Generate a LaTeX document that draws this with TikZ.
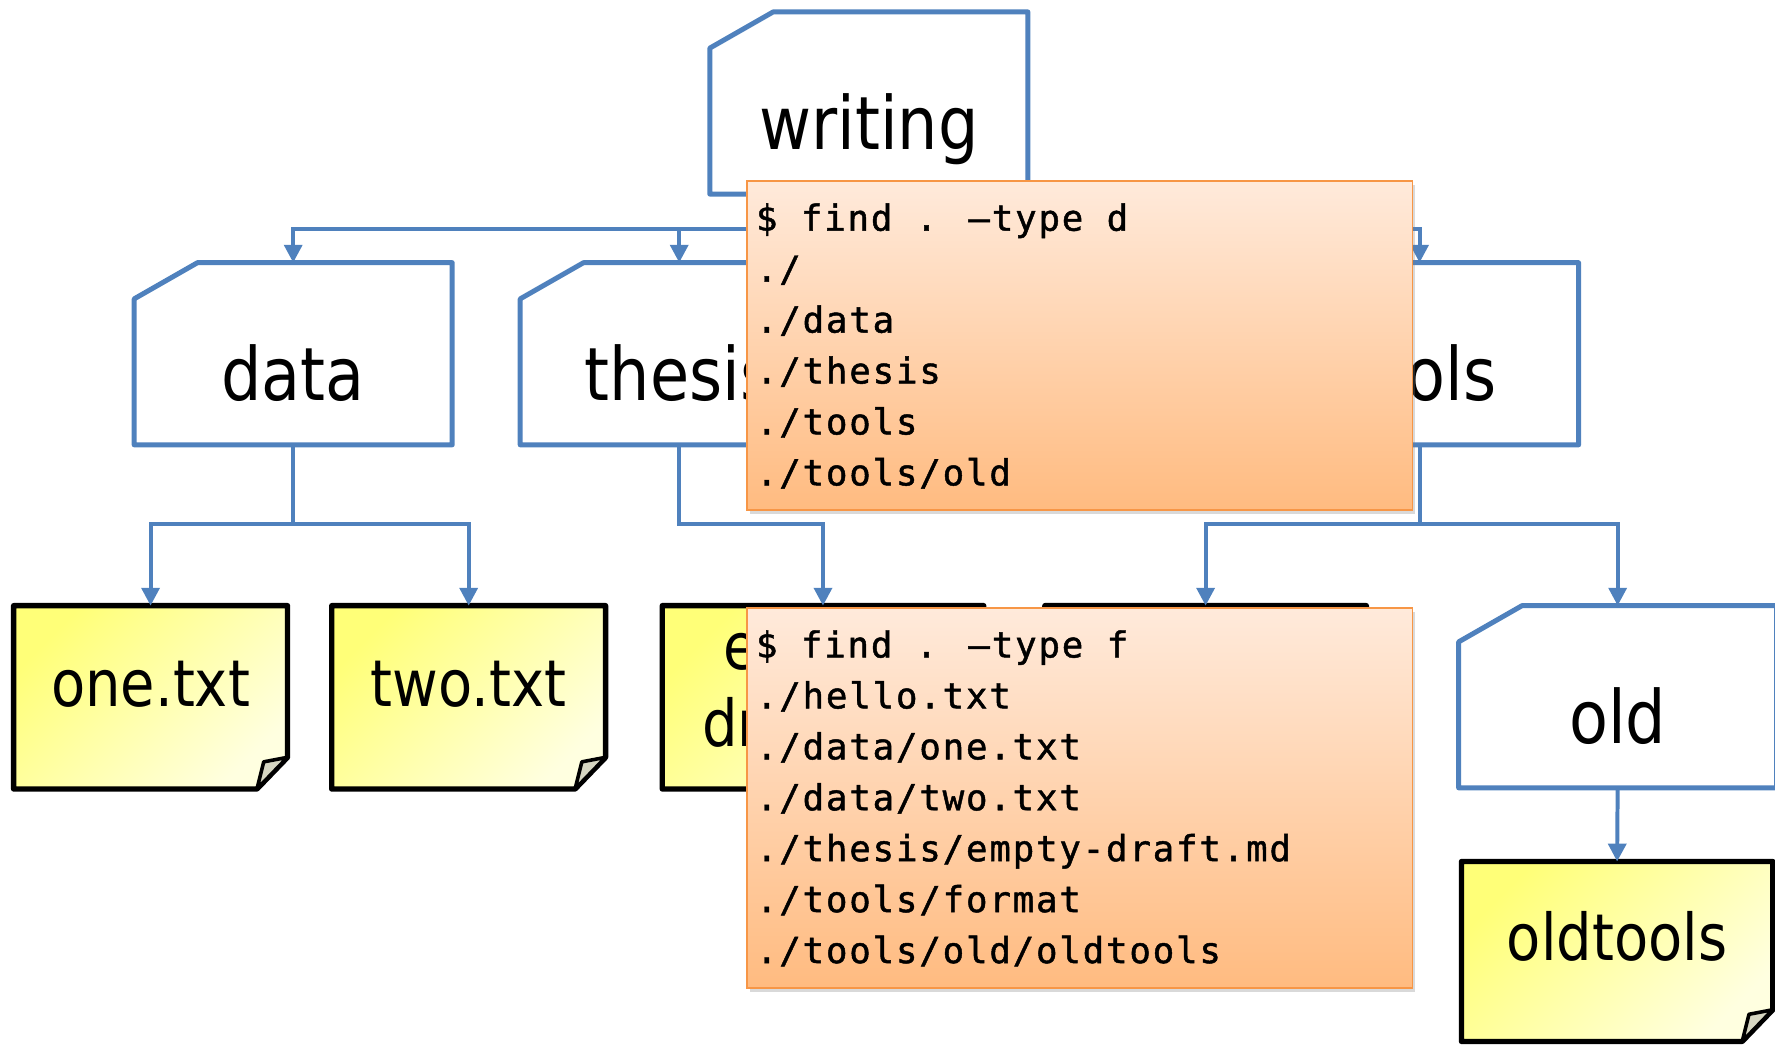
\documentclass[tikz,border=0pt]{standalone}
\usepackage{fontspec}
\usepackage{xcolor}
\usepackage{tikz}
\usetikzlibrary{positioning, arrows.meta, calc, backgrounds, shadows}

\newfontfamily\labelfamily[FakeStretch=0.865]{DejaVu Sans}
\newfontfamily\codefamily[LetterSpace=5, FakeBold=1.3]{DejaVu Sans Mono}

\definecolor{dirblue}{RGB}{79,129,189}
\definecolor{filetop}{RGB}{255,255,120}
\definecolor{filebottom}{RGB}{255,255,224}
\definecolor{foldgray}{RGB}{214,214,194}
\definecolor{codetop}{RGB}{255,234,219}
\definecolor{codebottom}{RGB}{255,187,128}
\definecolor{codeline}{RGB}{247,150,70}

\begin{document}
\begin{tikzpicture}[
    x=0.02cm, y=-0.02cm,
    dir_style/.style={rectangle, inner sep=0pt, outer sep=0pt,
        minimum width=5.62cm, minimum height=3.22cm,
        font=\fontsize{37}{44}\selectfont\labelfamily,
        text height=1.96cm, text depth=0.3cm},
    dir_line/.style={draw=dirblue, fill=white, line width=2.5pt, line join=round},
    file_style/.style={rectangle, inner sep=0pt, outer sep=0pt,
        minimum width=4.84cm, minimum height=3.24cm,
        font=\fontsize{32.5}{38.7}\selectfont\labelfamily,
        text height=0.62cm, text depth=0.3cm},
    file_fill/.style={top color=filetop, bottom color=filebottom, shading angle=45,
        draw=black, line width=2.7pt, line join=round},
    fold_style/.style={fill=foldgray, draw=black, line width=1.8pt, line join=round},
    link_style/.style={draw=dirblue, line width=2pt, -{Triangle[length=9pt, width=9pt]}},
    code_style/.style={rectangle, anchor=north west, draw=codeline, line width=0.9pt,
        top color=codetop, bottom color=codebottom, inner xsep=0.16cm, inner ysep=0pt,
        drop shadow={shadow xshift=0.05cm, shadow yshift=-0.07cm, opacity=0.3}}
]
    \useasboundingbox (0,0) rectangle (1568,923);
    \clip (0,0) rectangle (1568,923);

    % Directories
    \node[dir_style] (writing) at (767.5,91) {writing};
    \node[dir_style] (data) at (259,312.5) {data};
    \node[dir_style] (thesis) at (600,312.5) {thesis};
    \node[dir_style] (tools) at (1254,312.5) {tools};
    \node[dir_style] (old) at (1429,615.5) {old};

    % Files
    \node[file_style] (one) at (133,616) {one.txt};
    \node[file_style] (two) at (414,616) {two.txt};
    \node[file_style, minimum width=5.68cm, align=center, text height={}, text depth={}] (draft)
        at (727,616) {empty-\\draft.md\rule[-0.44cm]{0pt}{0pt}};
    \node[file_style, minimum width=5.68cm] (format) at (1065,616) {};
    \node[file_style, minimum width=5.5cm, minimum height=3.18cm] (oldtools) at (1428.5,840.5) {oldtools};

    \begin{pgfonlayer}{background}
        \foreach \d in {writing, data, thesis, tools, old} {
            \filldraw[dir_line] (\d.south west) -- ([yshift=-0.64cm]\d.north west)
                -- ([xshift=1.12cm]\d.north west) -- (\d.north east)
                -- (\d.south east) -- cycle;
        }
        \foreach \f in {one, two, draft, format, oldtools} {
            \shadedraw[file_fill] (\f.north west) -- (\f.north east)
                -- ([yshift=0.56cm]\f.south east) -- ([xshift=-0.54cm]\f.south east)
                -- (\f.south west) -- cycle;
            \filldraw[fold_style] ([yshift=0.56cm]\f.south east)
                -- ([xshift=-0.42cm, yshift=0.48cm]\f.south east)
                -- ([xshift=-0.54cm]\f.south east) -- cycle;
        }
    \end{pgfonlayer}

    % Branch points
    \coordinate (wbus) at ($(writing.south)+(0,31)$);
    \coordinate (dbus) at ($(data.south)+(0,70)$);
    \coordinate (tbus) at ($(thesis.south)+(0,70)$);
    \coordinate (lbus) at ($(tools.south)+(0,70)$);

    % Links
    \draw[link_style] (writing.south) -- (wbus) -| (data.north);
    \draw[link_style] (wbus) -| (thesis.north);
    \draw[link_style] (wbus) -| (tools.north);
    \draw[link_style] (data.south) -- (dbus) -| (one.north);
    \draw[link_style] (dbus) -| (two.north);
    \draw[link_style] (thesis.south) -- (tbus) -| (draft.north);
    \draw[link_style] (tools.south) -- (lbus) -| (format.north);
    \draw[link_style] (lbus) -| (old.north);
    \draw[link_style] (old.south) -- (oldtools.north);

    % find output
    \node[code_style] (dirlist) at (659,159) {\parbox[t][5.82cm][t]{11.44cm}{%
        \fontsize{18}{0.9cm}\selectfont\codefamily
        \rule{0pt}{0.88cm}\$ find . –type d\\
        ./\\
        ./data\\
        ./thesis\\
        ./tools\\
        ./tools/old}};
    \node[code_style] (filelist) at (659,536) {\parbox[t][6.72cm][t]{11.44cm}{%
        \fontsize{18}{0.9cm}\selectfont\codefamily
        \rule{0pt}{0.88cm}\$ find . –type f\\
        ./hello.txt\\
        ./data/one.txt\\
        ./data/two.txt\\
        ./thesis/empty-draft.md\\
        ./tools/format\\
        ./tools/old/oldtools}};
\end{tikzpicture}
\end{document}
